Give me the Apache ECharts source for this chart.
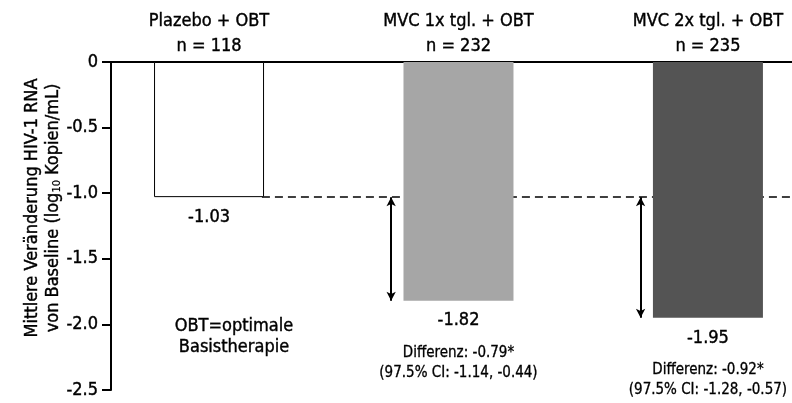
<!DOCTYPE html>
<html>
<head>
<meta charset="utf-8">
<script src="https://cdn.jsdelivr.net/npm/echarts@6/dist/echarts.min.js"></script>
<style>
  html, body { margin: 0; padding: 0; background: #fff; }
  #chart { width: 792px; height: 403px; }
</style>
</head>
<body>
<div id="chart"></div>
<script>
const categories = ['Plazebo + OBT', 'MVC 1x tgl. + OBT', 'MVC 2x tgl. + OBT']
const groupN = [118, 232, 235]
const meanChange = [-1.03, -1.82, -1.95]
const diffs = [null, -0.79, -0.92]
const ciLow = [null, -1.14, -1.28]
const ciHigh = [null, -0.44, -0.57]
const barColors = ['#ffffff', '#a6a6a6', '#545454']

const FONT = "'Liberation Sans Narrow', 'DejaVu Sans Condensed', sans-serif"
const xMin = -0.393
const xMax = 2.337
const arrowOffset = 0.27
const halfBar = 0.212

// slight outline so the condensed font reads a bit heavier, like the original
const heavy = { color: '#000', textBorderColor: '#000', textBorderWidth: 0.4 }

const chart = echarts.init(document.getElementById('chart'))

const barData = meanChange.map((v, i) => ({
  value: [i, v],
  itemStyle: {
    color: barColors[i],
    borderColor: i === 0 ? '#000' : barColors[i],
    borderWidth: i === 0 ? 1 : 0,
  },
}))

// arrows from placebo level down to each MVC bar
const arrowLines = meanChange.slice(1).map((v, k) => {
  const i = k + 1
  return [
    { coord: [i - arrowOffset, meanChange[0]] },
    { coord: [i - arrowOffset, v] },
  ]
})

chart.setOption({
  animation: false,
  textStyle: { fontFamily: FONT },
  grid: { left: 111, right: 0, top: 62, bottom: 13 },
  xAxis: {
    type: 'value',
    position: 'top',
    min: xMin,
    max: xMax,
    axisLine: { onZero: true, lineStyle: { color: '#000', width: 2 } },
    axisTick: { show: false },
    splitLine: { show: false },
    axisLabel: {
      customValues: [0, 1, 2],
      margin: 3,
      fontSize: 18,
      fontFamily: FONT,
      lineHeight: 25,
      ...heavy,
      formatter: v => categories[v] + '\nn = ' + groupN[v],
    },
  },
  yAxis: {
    type: 'value',
    min: -2.5,
    max: 0,
    interval: 0.5,
    axisLine: { show: true, onZero: false, lineStyle: { color: '#000', width: 2 } },
    axisTick: { show: true, length: 9, lineStyle: { color: '#000', width: 2 } },
    splitLine: { show: false },
    axisLabel: {
      fontSize: 18,
      fontFamily: FONT,
      margin: 13,
      ...heavy,
      formatter: v => (v === 0 ? '0' : v.toFixed(1)),
    },
    name: '{a|Mittlere Veränderung HIV-1 RNA}\n{a|von Baseline (log}{s|10}{a| Kopien/mL)}',
    nameLocation: 'middle',
    nameRotate: 90,
    nameGap: 47,
    nameMoveOverlap: false,
    nameTextStyle: {
      padding: [0, 0, 0, 36],
      rich: {
        a: { fontSize: 18, fontFamily: FONT, lineHeight: 21, ...heavy },
        s: { fontSize: 11, fontFamily: FONT, lineHeight: 21, padding: [8, 0, 0, 0], ...heavy, textBorderWidth: 0.2 },
      },
    },
  },
  series: [
    {
      type: 'bar',
      barWidth: 110,
      z: 2,
      data: barData,
      label: {
        show: true,
        position: 'bottom',
        distance: -2,
        formatter: p => {
          const i = p.dataIndex
          let s = '{v|' + meanChange[i].toFixed(2) + '}'
          if (diffs[i] !== null) {
            s += '\n{d|Differenz: ' + diffs[i].toFixed(2) + '*}'
            s += '\n{d|(97.5% CI: ' + ciLow[i].toFixed(2) + ', ' + ciHigh[i].toFixed(2) + ')}'
          }
          return s
        },
        rich: {
          v: { fontSize: 18, fontFamily: FONT, lineHeight: 44, ...heavy },
          d: { fontSize: 15, fontFamily: FONT, lineHeight: 20, ...heavy, textBorderWidth: 0.3 },
        },
      },
      markLine: {
        silent: true,
        z: 1,
        label: { show: false },
        data: [
          [
            { coord: [halfBar, meanChange[0]], symbol: 'none', lineStyle: { type: [8, 5], width: 1.5, color: '#000' } },
            { coord: [xMax, meanChange[0]], symbol: 'none' },
          ],
          ...arrowLines.map(pair => [
            { ...pair[0], symbol: 'arrow', symbolSize: [7, 9], lineStyle: { type: 'solid', width: 2, color: '#000' } },
            { ...pair[1], symbol: 'arrow', symbolSize: [7, 9] },
          ]),
        ],
      },
    },
  ],
  graphic: [
    {
      type: 'text',
      x: 234,
      y: 316,
      style: {
        text: 'OBT=optimale\nBasistherapie',
        font: '18px ' + FONT,
        fill: '#000',
        stroke: '#000',
        lineWidth: 0.4,
        align: 'center',
        lineHeight: 21,
      },
    },
  ],
})
</script>
</body>
</html>
